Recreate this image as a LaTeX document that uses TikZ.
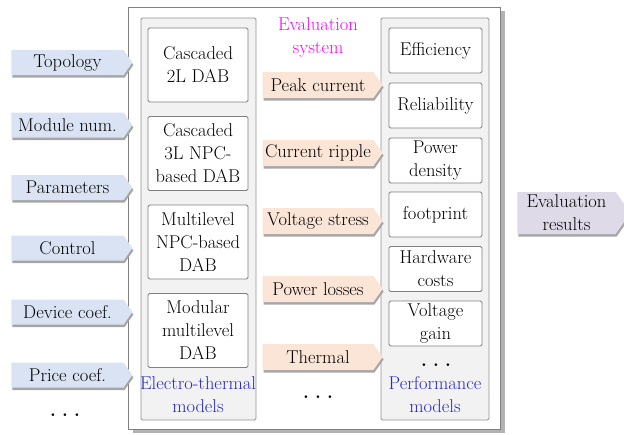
\documentclass[tikz,border=0pt]{standalone}
\usetikzlibrary{shapes.symbols,shadows}
\definecolor{inarrow}{HTML}{DAE3F3}
\definecolor{midarrow}{HTML}{FBE5D6}
\definecolor{outarrow}{HTML}{DEDAE8}
\definecolor{panel}{HTML}{F2F2F2}
\definecolor{edge}{HTML}{808080}
\definecolor{evalmag}{HTML}{FF00FF}
\definecolor{modblue}{HTML}{2828C8}
\begin{document}
\begin{tikzpicture}[x=1pt,y=-1pt,
 every node/.style={font=\rmfamily\fontsize{18.5}{23}\selectfont, align=center, inner sep=0pt},
 outerbox/.style={draw=edge, fill=white, line width=0.8pt, drop shadow={shadow xshift=5pt, shadow yshift=-4pt, fill=black!30, opacity=1}},
 panelbox/.style={draw=edge!85, fill=panel, line width=0.8pt, rounded corners=1.5pt},
 itembox/.style={draw=edge, fill=white, line width=0.8pt, rounded corners=1.5pt},
 leftitem/.style={itembox, minimum width=100pt, minimum height=74pt},
 rightitem/.style={itembox, minimum width=93pt, minimum height=45pt},
 sig/.style={shape=signal, signal to=east, signal pointer angle=110, draw=none, drop shadow={shadow xshift=1pt, shadow yshift=-2.5pt, fill=black!35, opacity=1}},
 inarr/.style={sig, fill=inarrow, minimum width=121pt, minimum height=25pt},
 midarr/.style={sig, fill=midarrow, minimum width=120pt, minimum height=26pt},
 outarr/.style={sig, fill=outarrow, minimum width=113pt, minimum height=42pt},
 dots/.style={font=\rmfamily\fontsize{18.5}{23}\selectfont\bfseries},
]
\useasboundingbox (0,0) rectangle (624,434);

% outer box and panels
\node[outerbox, minimum width=372pt, minimum height=422pt] (outer) at (314,218) {};
\node[panelbox, minimum width=115pt, minimum height=402pt] (lpanel) at (198.5,219) {};
\node[panelbox, minimum width=108pt, minimum height=402pt] (rpanel) at (435,219) {};

\node[text=evalmag] (evsys) at (318,37) {Evaluation\\system};

% left items
\node[leftitem] (l1) at (198,65) {Cascaded\\2L DAB};
\node[leftitem] (l2) at (198,153.5) {Cascaded\\3L NPC-\\based DAB};
\node[leftitem] (l3) at (198,242) {Multilevel\\NPC-based\\DAB};
\node[leftitem] (l4) at (198,330.5) {Modular\\multilevel\\DAB};
\node[text=modblue] (etm) at (198,395) {Electro-thermal\\models};

% right items
\node[rightitem] (r1) at (435.5,50.5) {Efficiency};
\node[rightitem] (r2) at (435.5,105.5) {Reliability};
\node[rightitem] (r3) at (435.5,160.5) {Power\\density};
\node[rightitem] (r4) at (435.5,214.5) {footprint};
\node[rightitem] (r5) at (435.5,269) {Hardware\\costs};
\node[rightitem] (r6) at (435.5,323.5) {Voltage\\gain};
\node[dots] (rdots) at (436,365) {.\,\,.\,\,.};
\node[text=modblue] (pm) at (435,395) {Performance\\models};

% input arrows
\node[inarr] (i1) at (67.5,62.5) {Topology};
\node[inarr] (i2) at (67.5,125) {Module num.};
\node[inarr] (i3) at (67.5,187.5) {Parameters};
\node[inarr] (i4) at (67.5,248) {Control};
\node[inarr] (i5) at (67.5,312) {Device coef.};
\node[inarr] (i6) at (67.5,375) {Price coef.};
\node[dots] (idots) at (65,415) {.\,\,.\,\,.};

% middle arrows
\node[midarr] (m1) at (318,85) {Peak current};
\node[midarr] (m2) at (318,153) {Current ripple};
\node[midarr] (m3) at (318,221) {Voltage stress};
\node[midarr] (m4) at (318,289) {Power losses};
\node[midarr] (m5) at (318,357) {Thermal};
\node[dots] (mdots) at (318,397) {.\,\,.\,\,.};

% output arrow
\node[outarr] (res) at (566.5,213) {Evaluation\\results};
\end{tikzpicture}
\end{document}
